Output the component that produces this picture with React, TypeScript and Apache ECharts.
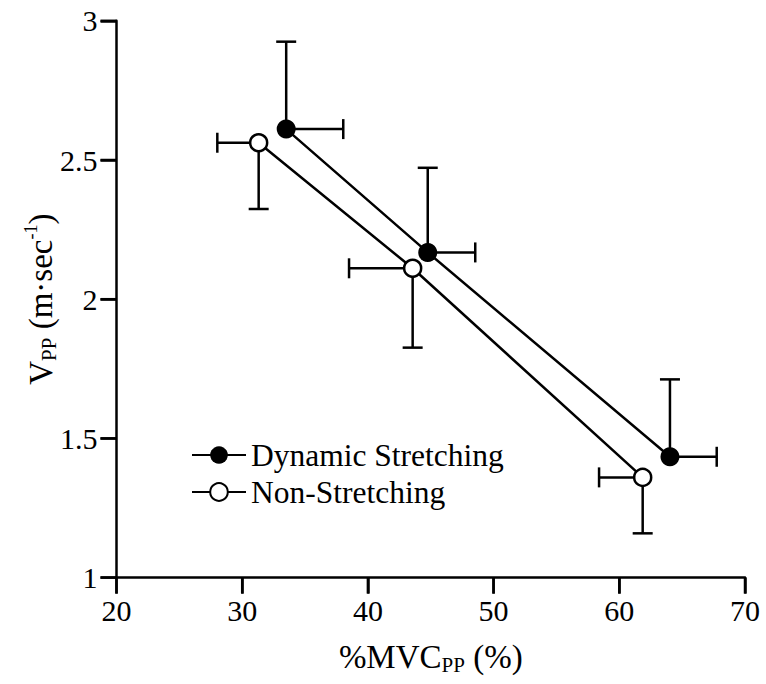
import React, { useEffect, useRef } from "react";
import * as echarts from "echarts";

const seriesNames = ["Dynamic Stretching", "Non-Stretching"];
const dynX = [33.5, 44.76, 64.03];
const dynY = [2.611, 2.168, 1.434];
const dynXSD = [4.54, 3.78, 3.72];
const dynYSD = [0.314, 0.304, 0.278];
const nonX = [31.31, 43.56, 61.86];
const nonY = [2.562, 2.111, 1.36];
const nonXSD = [3.29, 5.06, 3.47];
const nonYSD = [0.238, 0.285, 0.201];
const xTicks = [20, 30, 40, 50, 60, 70];
const yTicks = [1, 1.5, 2, 2.5, 3];

const FONT = "Liberation Serif";
const LW = 2.5;
const TICK = 16;

export default function App() {
  const ref = useRef<HTMLDivElement>(null);
  useEffect(() => {
    if (!ref.current) return;
    const chart = echarts.init(ref.current, null, { renderer: "svg" });
    const dynPts = dynX.map((x, i) => [x, dynY[i]]);
    const nonPts = nonX.map((x, i) => [x, nonY[i]]);
    // [x, y, xLo, xHi, yLo, yHi]
    const dynErr = dynX.map((x, i) => [x, dynY[i], x, x + dynXSD[i], dynY[i], dynY[i] + dynYSD[i]]);
    const nonErr = nonX.map((x, i) => [x, nonY[i], x - nonXSD[i], x, nonY[i] - nonYSD[i], nonY[i]]);
    const cap = 10;
    const st = () => ({ stroke: "#000", lineWidth: LW });
    const renderErr = (params: any, api: any) => {
      const x = api.value(0), y = api.value(1);
      const xLo = api.value(2), xHi = api.value(3), yLo = api.value(4), yHi = api.value(5);
      const c = api.coord([x, y]);
      const children: any[] = [];
      const addH = (xv: number) => {
        if (xv === x) return;
        const p = api.coord([xv, y]);
        children.push({ type: "line", shape: { x1: c[0], y1: c[1], x2: p[0], y2: p[1] }, style: st() });
        children.push({ type: "line", shape: { x1: p[0], y1: p[1] - cap, x2: p[0], y2: p[1] + cap }, style: st() });
      };
      const addV = (yv: number) => {
        if (yv === y) return;
        const p = api.coord([x, yv]);
        children.push({ type: "line", shape: { x1: c[0], y1: c[1], x2: p[0], y2: p[1] }, style: st() });
        children.push({ type: "line", shape: { x1: p[0] - cap, y1: p[1], x2: p[0] + cap, y2: p[1] }, style: st() });
      };
      addH(xLo); addH(xHi); addV(yLo); addV(yHi);
      return { type: "group", children };
    };
    const xTickData = xTicks.map((v) => [v, yTicks[0]]);
    const yTickData = yTicks.map((v) => [xTicks[0], v]);
    const renderXTick = (params: any, api: any) => {
      const p = api.coord([api.value(0), api.value(1)]);
      return { type: "line", shape: { x1: p[0], y1: p[1], x2: p[0], y2: p[1] + TICK }, style: st() };
    };
    const renderYTick = (params: any, api: any) => {
      const p = api.coord([api.value(0), api.value(1)]);
      return { type: "line", shape: { x1: p[0] - TICK, y1: p[1], x2: p[0], y2: p[1] }, style: st() };
    };
    const nameRich = {
      a: { fontFamily: FONT, fontSize: 33, color: "#000", lineHeight: 38 },
      s: { fontFamily: FONT, fontSize: 21, color: "#000", lineHeight: 31, verticalAlign: "bottom" },
      p: { fontFamily: FONT, fontSize: 18, color: "#000", lineHeight: 20, verticalAlign: "top" },
    };
    const mkLine = () => ({ show: true, lineStyle: { color: "#000", width: LW } });
    const mkTick = () => ({ show: true, length: TICK, lineStyle: { color: "#000", width: LW } });
    chart.setOption({
      animation: false,
      backgroundColor: "#fff",
      grid: { left: 116.5, right: 21, top: 20.8, bottom: 106.4, outerBoundsMode: "none" },
      legend: {
        left: 186,
        top: 434,
        orient: "vertical",
        itemWidth: 54,
        itemHeight: 22,
        itemGap: 5,
        data: seriesNames,
        textStyle: { fontFamily: FONT, fontSize: 31.5, color: "#000" },
      },
      xAxis: {
        type: "value",
        min: 20,
        max: 70,
        interval: 10,
        axisLine: mkLine(),
        axisTick: mkTick(),
        splitLine: { show: false },
        axisLabel: { fontFamily: FONT, fontSize: 30, color: "#000", margin: 18 },
        name: "{a|%MVC}{s|PP}{a| (%)}",
        nameLocation: "middle",
        nameGap: 60,
        nameTextStyle: { rich: nameRich },
      },
      yAxis: {
        type: "value",
        min: 1,
        max: 3,
        interval: 0.5,
        axisLine: mkLine(),
        axisTick: mkTick(),
        splitLine: { show: false },
        axisLabel: { fontFamily: FONT, fontSize: 30, color: "#000", margin: 19 },
        name: "{a|V}{s|PP}{a| (m·sec}{p|-1}{a|)}",
        nameLocation: "middle",
        nameGap: 57,
        nameMoveOverlap: false,
        nameRotate: 90,
        nameTextStyle: { rich: nameRich },
      },
      series: [
        { type: "custom", renderItem: renderXTick, data: xTickData, clip: false },
        { type: "custom", renderItem: renderYTick, data: yTickData, clip: false },
        { type: "custom", renderItem: renderErr, data: dynErr, clip: false },
        { type: "custom", renderItem: renderErr, data: nonErr, clip: false },
        {
          type: "line",
          name: seriesNames[0],
          data: dynPts,
          symbol: "circle",
          symbolSize: 19,
          lineStyle: { color: "#000", width: LW },
          itemStyle: { color: "#000", borderColor: "#000", borderWidth: 0 },
          z: 3,
        },
        {
          type: "line",
          name: seriesNames[1],
          data: nonPts,
          symbol: "circle",
          symbolSize: 17,
          lineStyle: { color: "#000", width: LW },
          itemStyle: { color: "#fff", borderColor: "#000", borderWidth: LW },
          z: 3,
        },
      ],
    });
    return () => chart.dispose();
  }, []);
  return (
    <div
      ref={ref}
      style={{ position: "fixed", left: 0, top: 0, width: 766, height: 684, background: "#fff" }}
    />
  );
}
